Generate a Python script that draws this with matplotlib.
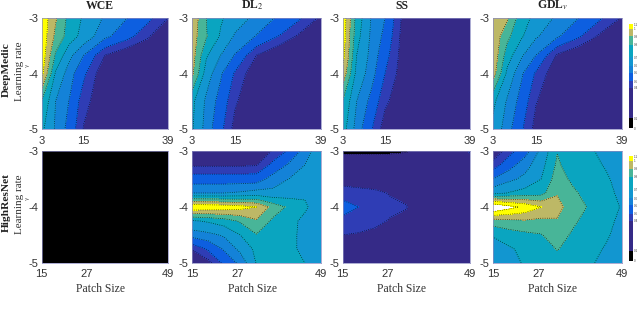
import matplotlib
matplotlib.use("Agg")
import matplotlib.pyplot as plt
from matplotlib.colors import ListedColormap, BoundaryNorm
import numpy as np

SERIF = "Liberation Serif"
SANS = "Liberation Sans"

titles = ["WCE", "DL$_2$", "SS", "GDL$_v$"]
row_names = ["DeepMedic", "HighResNet"]
top_xticks = [3, 15, 39]
bot_xticks = [15, 27, 49]
yticks = [-3, -4, -5]

top_x = [3, 7, 11, 15, 21, 27, 33, 39]
top_y = [-3, -3.33, -3.67, -4, -4.5, -5]
bot_x = [15, 19.25, 23.5, 27.75, 32, 36.25, 40.5, 44.75, 49]
bot_y = [-3, -3.25, -3.5, -3.75, -4, -4.25, -4.5, -4.75, -5]

levels = [0, 0.096, 0.385, 0.45, 0.53, 0.60, 0.68, 0.76, 0.84, 0.92, 1.0]
bar_edges = [0, 0.096, 0.385, 0.45, 0.53, 0.60, 0.68, 0.80, 0.88, 0.955, 1.0]
bar_labels = ["0", "0.1", "0.4", "0.5", "0.5", "0.6", "0.7", "0.8", "0.9", "1", "1.1"]
colors = ["#000000", "#352a87", "#2f3db5", "#0d5fe0", "#1482d8", "#1296d0",
          "#0aa5c0", "#48b598", "#bdb866", "#ffff00"]

wce_dm = [
    [.98, .85, .73, .67, .59, .535, .475, .385],
    [.98, .82, .72, .65, .55, .48, .40, .30],
    [.98, .75, .62, .53, .385, .33, .30, .30],
    [.95, .67, .56, .465, .33, .30, .30, .30],
    [.76, .60, .525, .41, .33, .30, .30, .30],
    [.70, .59, .50, .38, .32, .30, .30, .30],
]
dl_dm = [
    [.90, .76, .69, .64, .58, .52, .46, .37],
    [.88, .765, .67, .59, .525, .45, .37, .30],
    [.88, .69, .60, .525, .385, .32, .30, .30],
    [.86, .64, .54, .44, .33, .30, .30, .30],
    [.70, .585, .50, .395, .32, .30, .30, .30],
    [.69, .57, .47, .36, .32, .30, .30, .30],
]
ss_dm = [
    [.98, .73, .60, .53, .34, .30, .30, .30],
    [.97, .71, .59, .51, .33, .30, .30, .30],
    [.96, .68, .58, .48, .33, .30, .30, .30],
    [.90, .655, .565, .45, .33, .30, .30, .30],
    [.76, .60, .51, .40, .32, .30, .30, .30],
    [.72, .57, .46, .35, .32, .30, .30, .30],
]
gdl_dm = [
    [.90, .85, .71, .66, .585, .53, .46, .38],
    [.90, .78, .69, .61, .54, .46, .37, .30],
    [.90, .72, .61, .53, .375, .32, .30, .30],
    [.88, .66, .54, .44, .33, .30, .30, .30],
    [.70, .59, .50, .39, .32, .30, .30, .30],
    [.66, .56, .46, .36, .32, .30, .30, .30],
]
wce_hr = [
    [0, 0, 0, 0, 0, 0, 0, 0, 0],
    [0, 0, 0, 0, 0, 0, 0, 0, 0],
    [0, 0, 0, 0, 0, 0, 0, 0, 0],
    [0, 0, 0, 0, 0, 0, 0, 0, 0],
    [0, 0, 0, 0, 0, 0, 0, 0, 0],
    [0, 0, 0, 0, 0, 0, 0, 0, 0],
    [0, 0, 0, 0, 0, 0, 0, 0, 0],
    [0, 0, 0, 0, 0, 0, 0, 0, 0],
    [0, 0, 0, 0, 0, 0, 0, 0, 0],
]
dl_hr = [
    [.30, .30, .30, .30, .33, .39, .46, .56, .66],
    [.375, .375, .375, .375, .38, .47, .54, .60, .66],
    [.49, .49, .49, .49, .49, .56, .60, .64, .66],
    [.60, .60, .60, .61, .63, .62, .64, .67, .67],
    [.99, .98, .97, .95, .92, .81, .745, .69, .64],
    [.67, .69, .72, .77, .83, .745, .70, .665, .63],
    [.56, .58, .61, .68, .755, .71, .69, .67, .63],
    [.39, .46, .54, .62, .70, .695, .685, .675, .64],
    [.30, .36, .47, .55, .685, .69, .685, .68, .64],
]
ss_hr = [
    [.04, .04, .04, .04, .07, .20, .30, .32, .40],
    [.30, .30, .30, .30, .30, .30, .30, .30, .30],
    [.37, .36, .34, .32, .30, .30, .30, .30, .30],
    [.40, .40, .40, .38, .36, .30, .30, .30, .30],
    [.50, .45, .41, .40, .39, .32, .30, .30, .30],
    [.42, .41, .40, .38, .36, .30, .30, .30, .30],
    [.385, .38, .37, .33, .30, .30, .30, .30, .30],
    [.33, .32, .30, .30, .30, .30, .30, .30, .30],
    [.30, .30, .30, .30, .30, .30, .30, .30, .30],
]
gdl_hr = [
    [.33, .42, .50, .62, .755, .70, .69, .66, .635],
    [.41, .50, .57, .65, .775, .71, .70, .675, .645],
    [.53, .58, .62, .68, .80, .74, .71, .69, .655],
    [.65, .685, .71, .73, .835, .775, .725, .70, .665],
    [1.1, 1.03, .98, .92, .86, .805, .75, .715, .675],
    [.80, .82, .83, .82, .835, .775, .725, .70, .665],
    [.69, .72, .74, .755, .80, .745, .71, .69, .655],
    [.62, .67, .70, .71, .765, .72, .70, .675, .645],
    [.60, .65, .69, .71, .72, .70, .69, .66, .63],
]

W, H = 640, 315
fig = plt.figure(figsize=(W / 100, H / 100), dpi=100, facecolor="white")
cmap = ListedColormap(colors)
norm = BoundaryNorm(levels, cmap.N)


def px_axes(x0, y0, x1, y1):
    return fig.add_axes([x0 / W, 1 - y1 / H, (x1 - x0) / W, (y1 - y0) / H])


top_px = [(41.5, 168), (192, 321), (342.5, 470), (493, 621.5)]
rows = [
    (18, 129, top_x, top_y, top_xticks, [wce_dm, dl_dm, ss_dm, gdl_dm], 70, 71, 5),
    (151, 263, bot_x, bot_y, bot_xticks, [wce_hr, dl_hr, ss_hr, gdl_hr], 203, 204, 4),
]

for r, (y0, y1, gx, gy, xt, panels, yname, ylr, xpad) in enumerate(rows):
    for c, vals in enumerate(panels):
        x0, x1 = top_px[c]
        ax = px_axes(x0, y0, x1, y1)
        Z = np.array(vals, dtype=float)
        ax.contourf(gx, gy, Z, levels=levels, cmap=cmap, norm=norm)
        if Z.max() > 0:
            ax.contour(gx, gy, Z, levels=levels[1:], colors="black",
                       linewidths=0.5, linestyles=[(0, (1, 2.2))])
        ax.set_xlim(gx[0], gx[-1])
        ax.set_ylim(-5, -3)
        ax.set_xticks(xt)
        ax.set_yticks(yticks)
        ax.set_xticklabels([str(v) for v in xt], family=SANS, fontsize=8, color="#333333")
        ax.set_yticklabels([str(v) for v in yticks], family=SANS, fontsize=8, color="#333333")
        ax.tick_params(axis="x", length=0, pad=xpad)
        ax.tick_params(axis="y", length=0, pad=2.5)
        for s in ax.spines.values():
            s.set_linewidth(0.5)
            s.set_color("#8a8ac0")
        xc = 0.5 - 4.5 / (x1 - x0)
        if r == 0:
            ax.set_title(titles[c], family=SERIF, fontweight="bold", fontsize=8.5, pad=6.5,
                         color="#222222", math_fontfamily="stix", x=xc)
        else:
            ax.set_xlabel("Patch Size", family=SERIF, fontsize=8.4, labelpad=3.5, color="#333333",
                          x=xc)

    # row labels
    fig.text(6.5 / W, 1 - yname / H, row_names[r], family=SERIF, fontweight="bold",
             fontsize=8.2, rotation=90, ha="center", va="center", color="#222222")
    fig.text(19 / W, 1 - ylr / H, "Learning rate", family=SERIF, fontsize=8,
             rotation=90, ha="center", va="center", color="#333333")
    fig.text(27 / W, 1 - (ylr - 6) / H, "γ", family="DejaVu Sans", fontsize=4,
             rotation=90, ha="center", va="center", color="#555555")

    # colour bar
    by0, by1 = (24, 128) if r == 0 else (156, 261)
    cax = px_axes(629, by0, 633, by1)
    cax.pcolormesh([0, 1], bar_edges, np.array(levels[:-1]).reshape(-1, 1),
                   cmap=cmap, norm=norm)
    cax.set_xticks([])
    cax.set_ylim(bar_edges[0], bar_edges[-1])
    cax.yaxis.tick_right()
    cax.set_yticks(bar_edges)
    cax.set_yticklabels(bar_labels, family=SANS, fontsize=2.2, color="#444444")
    cax.tick_params(length=0, pad=0.8)
    for s in cax.spines.values():
        s.set_visible(False)

fig.savefig("out.png", dpi=100, facecolor="white")
